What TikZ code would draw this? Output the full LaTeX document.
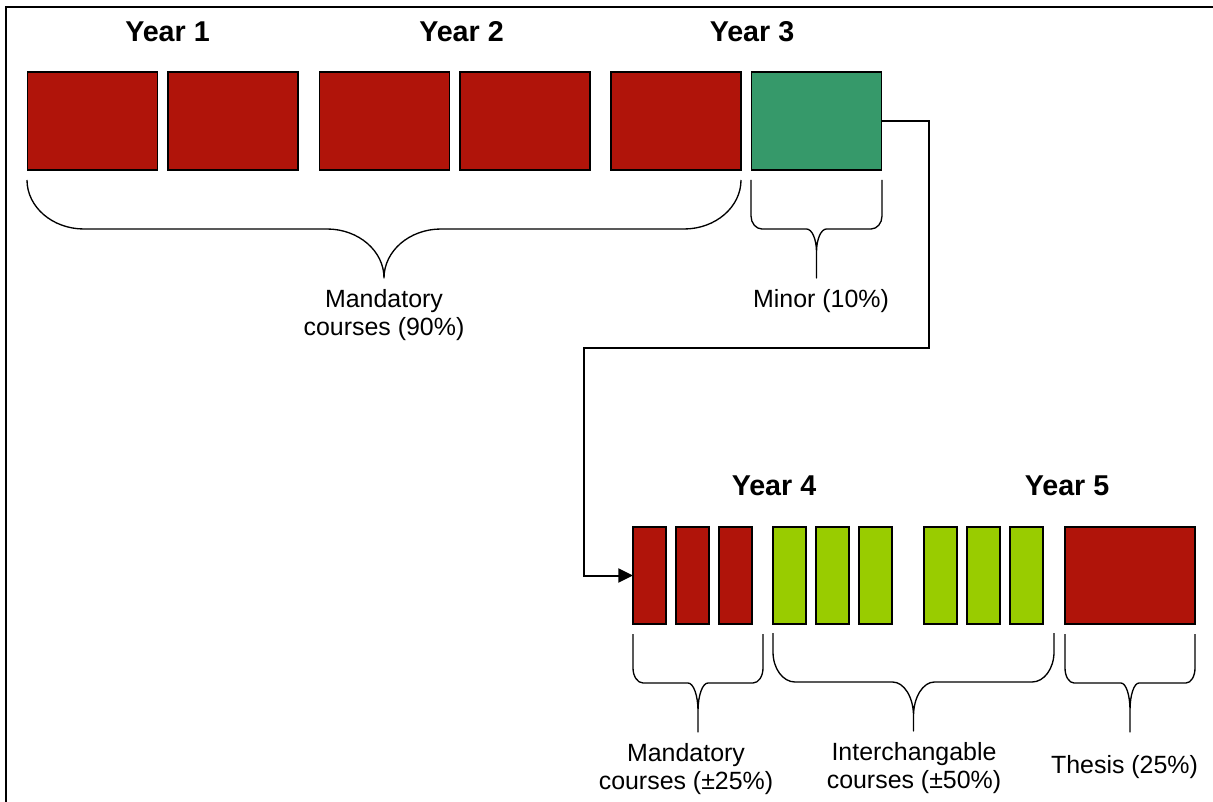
\documentclass[tikz,border=0pt]{standalone}
\usepackage{fontspec}
\setmainfont{Liberation Sans}
\usetikzlibrary{arrows.meta}

\definecolor{coursered}{HTML}{B0140A}
\definecolor{minorgreen}{HTML}{36996A}
\definecolor{choicelime}{HTML}{99CC00}

% curly brace: left x, right x, top y,
% outer corner radii (x, y), middle cusp radii (x, y)
\newcommand\curlybrace[7]{%
  \pgfmathsetmacro\cbm{(#1+#2)/2}%
  \pgfmathsetmacro\cbh{#3+49}%
  \draw[bracestyle] (#1,#3) -- (#1,\cbh-#5)
    .. controls (#1,\cbh-0.448*#5) and (#1+0.448*#4,\cbh) .. (#1+#4,\cbh)
    -- (\cbm-#6,\cbh)
    .. controls (\cbm-0.448*#6,\cbh) and (\cbm,\cbh+0.448*#7) .. (\cbm,\cbh+#7)
    -- (\cbm,\cbh+49) -- (\cbm,\cbh+#7)
    .. controls (\cbm,\cbh+0.448*#7) and (\cbm+0.448*#6,\cbh) .. (\cbm+#6,\cbh)
    -- (#2-#4,\cbh)
    .. controls (#2-0.448*#4,\cbh) and (#2,\cbh-0.448*#5) .. (#2,\cbh-#5)
    -- (#2,#3);%
}

\begin{document}
\begin{tikzpicture}[x=0.75pt,y=-0.75pt,
  course/.style={draw=black,line width=1.2pt,inner sep=0pt,outer sep=0pt},
  wide/.style={course,minimum width={130*0.75pt},minimum height={98*0.75pt}},
  narrow/.style={course,minimum width={33*0.75pt},minimum height={97*0.75pt}},
  mand/.style={fill=coursered},
  minorc/.style={fill=minorgreen},
  choice/.style={fill=choicelime},
  yearlabel/.style={font=\fontsize{21.5}{24}\selectfont\bfseries,anchor=base,inner sep=0pt},
  caption/.style={font=\fontsize{18.7}{21}\selectfont,align=center,inner sep=0pt},
  bracestyle/.style={line width=1pt,line join=round},
  flow/.style={line width=1.5pt,-{Triangle[length=11pt,width=10.5pt]}},
  frame/.style={line width=1.6pt}]

\useasboundingbox (0,0) rectangle (1213,802);

% outer frame
\draw[frame] (6,802) -- (6,7) -- (1213,7);

% years 1-3
\node[yearlabel] (y1) at (167.5,42) {Year 1};
\node[yearlabel] (y2) at (461.5,42) {Year 2};
\node[yearlabel] (y3) at (752,42) {Year 3};

\node[wide,mand]   (a1) at (92.5,121) {};
\node[wide,mand]   (a2) at (233,121) {};
\node[wide,mand]   (a3) at (384.5,121) {};
\node[wide,mand]   (a4) at (525,121) {};
\node[wide,mand]   (a5) at (676,121) {};
\node[wide,minorc] (mi) at (816.5,121) {};

\curlybrace{27}{741}{180}{57}{49}{57}{49}
\curlybrace{751}{882}{180}{11}{13}{10}{23}

\node[caption] (capA) at (384,315) {Mandatory\\courses (90\%)};
\node[caption,anchor=base] (capM) at (821,307) {Minor (10\%)};

% years 4-5
\node[yearlabel] (y4) at (774,495) {Year 4};
\node[yearlabel] (y5) at (1067,495) {Year 5};

\node[narrow,mand]   (b1) at (649.5,575.5) {};
\node[narrow,mand]   (b2) at (692.5,575.5) {};
\node[narrow,mand]   (b3) at (735.5,575.5) {};
\node[narrow,choice] (c1) at (789.5,575.5) {};
\node[narrow,choice] (c2) at (832.5,575.5) {};
\node[narrow,choice] (c3) at (875.5,575.5) {};
\node[narrow,choice] (c4) at (940.5,575.5) {};
\node[narrow,choice] (c5) at (983.5,575.5) {};
\node[narrow,choice] (c6) at (1026.5,575.5) {};
\node[wide,mand,minimum height={97*0.75pt}] (th) at (1130,575.5) {};

\curlybrace{633}{763}{634}{10}{15}{10}{28}
\curlybrace{773}{1054}{633}{22}{30}{21}{34}
\curlybrace{1065}{1195}{634}{9}{15}{9}{27}

\node[caption] (capB) at (686,769) {Mandatory\\courses (\textpm25\%)};
\node[caption] (capC) at (914,768) {Interchangable\\courses (\textpm50\%)};
\node[caption,anchor=base] (capT) at (1124.5,773) {Thesis (25\%)};

% path from the minor to the fourth year
\coordinate (r1) at (929,121);
\coordinate (r2) at (929,348);
\coordinate (r3) at (584,348);
\coordinate (r4) at (584,575.5);
\draw[flow] (mi.east) -- (r1) -- (r2) -- (r3) -- (r4) -- (b1.west);

\end{tikzpicture}
\end{document}
